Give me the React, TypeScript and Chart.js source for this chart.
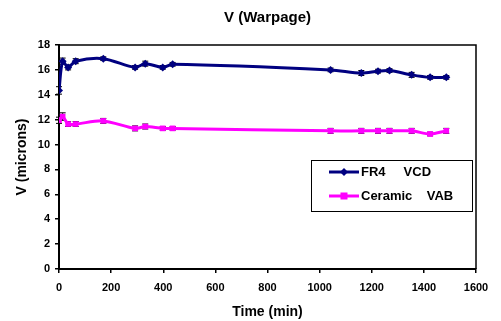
import React, { useEffect, useRef } from "react";
import { Chart, registerables } from "chart.js";

Chart.register(...registerables);

const TITLE = "V (Warpage)";
const X_TITLE = "Time (min)";
const Y_TITLE = "V (microns)";

const fr4Label = "FR4     VCD";
const fr4Time = [0, 14, 35, 64, 170, 292, 331, 398, 436, 1042, 1160, 1224, 1268, 1353, 1424, 1486];
const fr4Values = [14.35, 16.7, 16.2, 16.7, 16.9, 16.2, 16.5, 16.2, 16.45, 16.0, 15.75, 15.9, 15.95, 15.6, 15.4, 15.4];
const fr4Errors = [0.3, 0.25, 0.2, 0.2, 0.15, 0.15, 0.2, 0.15, 0.15, 0.15, 0.2, 0.15, 0.15, 0.2, 0.15, 0.15];

const cerLabel = "Ceramic    VAB";
const cerTime = [0, 14, 35, 64, 170, 292, 331, 398, 436, 1042, 1160, 1224, 1268, 1353, 1424, 1486];
const cerValues = [11.95, 12.25, 11.65, 11.65, 11.9, 11.3, 11.45, 11.3, 11.3, 11.1, 11.1, 11.1, 11.1, 11.1, 10.85, 11.1];
const cerErrors = [0.25, 0.3, 0.2, 0.2, 0.2, 0.2, 0.2, 0.15, 0.15, 0.2, 0.2, 0.2, 0.2, 0.2, 0.15, 0.2];

const X_MIN = 0, X_MAX = 1600, X_STEP = 200;
const Y_MIN = 0, Y_MAX = 18, Y_STEP = 2;

const NAVY = "#000080";
const MAGENTA = "#FF00FF";
const FONT = "'Liberation Sans', Arial, sans-serif";

const errorBarPlugin = {
  id: "errorBars",
  beforeDatasetsDraw(chart: any) {
    const ctx = chart.ctx;
    const yScale = chart.scales.y;
    const errs = [fr4Errors, cerErrors];
    const vals = [fr4Values, cerValues];
    ctx.save();
    ctx.strokeStyle = "#000";
    ctx.lineWidth = 1;
    chart.data.datasets.forEach((_: any, i: number) => {
      const meta = chart.getDatasetMeta(i);
      meta.data.forEach((pt: any, j: number) => {
        const x = pt.x;
        const y1 = yScale.getPixelForValue(vals[i][j] + errs[i][j]);
        const y2 = yScale.getPixelForValue(vals[i][j] - errs[i][j]);
        ctx.beginPath();
        ctx.moveTo(x, y1);
        ctx.lineTo(x, y2);
        ctx.moveTo(x - 3, y1);
        ctx.lineTo(x + 3, y1);
        ctx.moveTo(x - 3, y2);
        ctx.lineTo(x + 3, y2);
        ctx.stroke();
      });
    });
    ctx.restore();
  },
};

const framePlugin = {
  id: "frame",
  afterDraw(chart: any) {
    const { ctx, chartArea } = chart;
    ctx.save();
    ctx.strokeStyle = "#000";
    ctx.lineWidth = 1.5;
    ctx.beginPath();
    ctx.moveTo(chartArea.left, chartArea.top);
    ctx.lineTo(chartArea.right, chartArea.top);
    ctx.lineTo(chartArea.right, chartArea.bottom);
    ctx.stroke();
    ctx.restore();
  },
};

const legendPlugin = {
  id: "boxLegend",
  afterDraw(chart: any) {
    const ctx = chart.ctx;
    const bx = 311.5, by = 160.5, bw = 161, bh = 51;
    ctx.save();
    ctx.fillStyle = "#fff";
    ctx.fillRect(bx, by, bw, bh);
    ctx.strokeStyle = "#000";
    ctx.lineWidth = 1;
    ctx.strokeRect(bx, by, bw, bh);
    const rows = [
      { label: fr4Label, color: NAVY, y: 172, shape: "diamond" },
      { label: cerLabel, color: MAGENTA, y: 196, shape: "square" },
    ];
    rows.forEach((r) => {
      ctx.strokeStyle = r.color;
      ctx.lineWidth = 3;
      ctx.beginPath();
      ctx.moveTo(329, r.y);
      ctx.lineTo(359, r.y);
      ctx.stroke();
      ctx.fillStyle = r.color;
      ctx.beginPath();
      if (r.shape === "diamond") {
        ctx.moveTo(344, r.y - 4);
        ctx.lineTo(348, r.y);
        ctx.lineTo(344, r.y + 4);
        ctx.lineTo(340, r.y);
        ctx.closePath();
        ctx.fill();
      } else {
        ctx.fillRect(340.5, r.y - 3.5, 7, 7);
      }
      ctx.fillStyle = "#000";
      ctx.font = `bold 13px ${FONT}`;
      ctx.textBaseline = "middle";
      ctx.textAlign = "left";
      ctx.fillText(r.label, 361, r.y);
    });
    ctx.restore();
  },
};

export default function App() {
  const ref = useRef<HTMLCanvasElement | null>(null);
  useEffect(() => {
    if (!ref.current) return;
    const chart = new Chart(ref.current, {
      type: "line",
      data: {
        datasets: [
          {
            label: fr4Label,
            data: fr4Time.map((t, i) => ({ x: t, y: fr4Values[i] })),
            borderColor: NAVY,
            backgroundColor: NAVY,
            borderWidth: 3,
            pointStyle: "rectRot",
            pointRadius: 4,
            pointBorderWidth: 0,
            tension: 0.3,
          },
          {
            label: cerLabel,
            data: cerTime.map((t, i) => ({ x: t, y: cerValues[i] })),
            borderColor: MAGENTA,
            backgroundColor: MAGENTA,
            borderWidth: 3,
            pointStyle: "rect",
            pointRadius: 4,
            pointBorderWidth: 0,
            tension: 0.3,
          },
        ],
      },
      options: {
        responsive: false,
        animation: false,
        layout: { padding: { left: 0, right: 25, top: 0, bottom: 0 } },
        plugins: {
          legend: { display: false },
          tooltip: { enabled: false },
          title: {
            display: true,
            text: TITLE,
            fullSize: false,
            color: "#000",
            font: { family: FONT, size: 15, weight: "bold" },
            padding: { top: 9, bottom: 18 },
          },
        },
        scales: {
          x: {
            type: "linear",
            min: X_MIN,
            max: X_MAX,
            border: { display: true, color: "#000", width: 2 },
            grid: { display: true, drawOnChartArea: false, drawTicks: true, tickLength: 4, color: "#000", lineWidth: 1.5 },
            ticks: { stepSize: X_STEP, color: "#000", padding: 8, maxRotation: 0, callback: (v: any) => String(v), font: { family: FONT, size: 11, weight: "bold" } },
            title: { display: true, text: X_TITLE, color: "#000", padding: 0, font: { family: FONT, size: 14, weight: "bold" } },
            afterFit(scale: any) { scale.height = 52; },
          },
          y: {
            type: "linear",
            min: Y_MIN,
            max: Y_MAX,
            border: { display: true, color: "#000", width: 2 },
            grid: { display: true, drawOnChartArea: false, drawTicks: true, tickLength: 4, color: "#000", lineWidth: 1.5 },
            ticks: { stepSize: Y_STEP, color: "#000", padding: 5, callback: (v: any) => String(v), font: { family: FONT, size: 11, weight: "bold" } },
            title: { display: true, text: Y_TITLE, color: "#000", padding: 14, font: { family: FONT, size: 14, weight: "bold" } },
            afterFit(scale: any) { scale.width = 59; },
          },
        },
      },
      plugins: [errorBarPlugin, framePlugin, legendPlugin],
    } as any);
    return () => chart.destroy();
  }, []);
  return (
    <div style={{ position: "fixed", left: 0, top: 0, width: 501, height: 321, background: "#fff" }}>
      <canvas ref={ref} width={501} height={321} style={{ display: "block" }} />
    </div>
  );
}
